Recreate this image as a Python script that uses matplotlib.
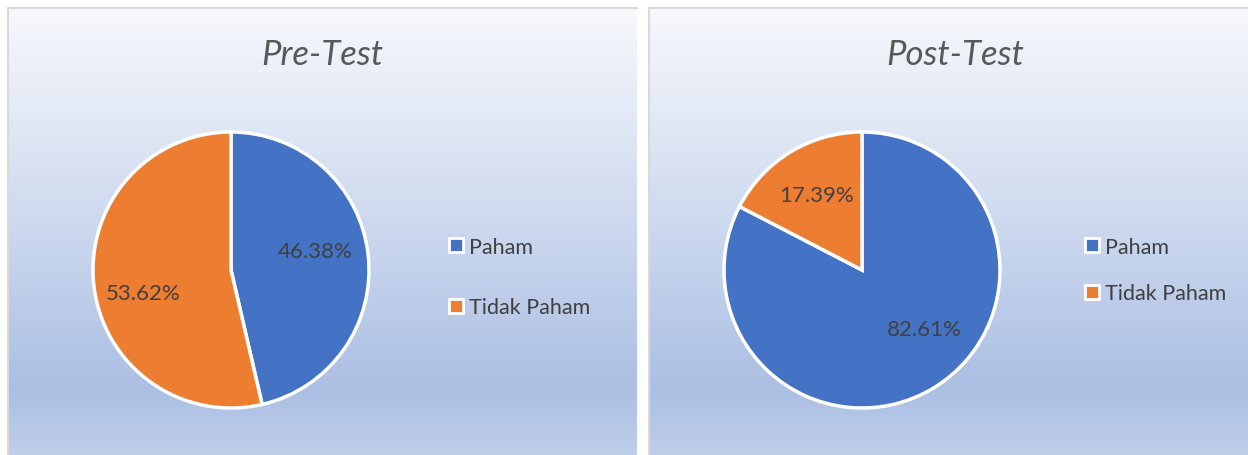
import matplotlib
matplotlib.use("Agg")
import matplotlib.pyplot as plt
import numpy as np
from matplotlib.colors import LinearSegmentedColormap
from matplotlib.lines import Line2D

plt.rcParams["font.family"] = ["Lato", "DejaVu Sans"]

# data
categories = ["Paham", "Tidak Paham"]
titles = ["Pre-Test", "Post-Test"]
pre_values = [46.38, 53.62]
post_values = [82.61, 17.39]
colors = ["#4472c4", "#ed7d31"]
TEXT = "#404040"

# where Excel put the percentage labels (in pie radius units)
pre_label_pos = [(0.61, 0.14), (-0.64, -0.17)]
post_label_pos = [(0.45, -0.43), (-0.33, 0.54)]

W, H = 1248, 456
fig = plt.figure(figsize=(W / 100, H / 100), dpi=100)

grad = LinearSegmentedColormap.from_list(
    "bg", [(0.0, "#f6f8fc"), (0.25, "#e1e8f5"), (0.83, "#abbfe3"), (1.0, "#c3d2eb")])


def panel(x0, x1, y0, y1):
    ax = fig.add_axes([x0 / W, 1 - y1 / H, (x1 - x0) / W, (y1 - y0) / H])
    ax.imshow(np.linspace(0, 1, 256).reshape(-1, 1), cmap=grad, aspect="auto",
              extent=[0, 1, 0, 1], origin="upper")
    ax.plot([0, 0, 1], [0, 1, 1], color="#d9d9d9", lw=1.5,
            transform=ax.transAxes, clip_on=False)
    ax.set_xlim(0, 1)
    ax.set_ylim(0, 1)
    ax.axis("off")
    return ax


def draw(cx, cy, r, values, title, title_x, label_pos, leg_x, leg_y, spacing):
    ax = fig.add_axes([(cx - r) / W, 1 - (cy + r) / H, 2 * r / W, 2 * r / H])
    wedges, _, autotexts = ax.pie(values, colors=colors, startangle=90, counterclock=False,
                                  autopct=lambda p: f"{p:.2f}%", pctdistance=0.6,
                                  wedgeprops=dict(edgecolor="white", linewidth=2.5),
                                  textprops=dict(color=TEXT, fontsize=16))
    for t, pos in zip(autotexts, label_pos):
        t.set_position(pos)
    ax.set_xlim(-1, 1)
    ax.set_ylim(-1, 1)
    fig.text(title_x / W, 1 - 55 / H, title, ha="center", va="center",
             fontsize=25, style="italic", color="#595959")
    handles = [Line2D([], [], marker="s", ls="none", markersize=10, markerfacecolor=c,
                      markeredgecolor="white", markeredgewidth=2) for c in colors]
    fig.legend(handles, categories, loc="upper left",
               bbox_to_anchor=(leg_x / W, 1 - leg_y / H), frameon=False,
               fontsize=15.5, labelcolor=TEXT, handlelength=0.6, handletextpad=0.3,
               labelspacing=spacing, borderpad=0, borderaxespad=0)
    return autotexts


panel(8, 637, 9, 470)
panel(649, 1260, 9, 470)

draw(231, 271, 138, pre_values, titles[0], 322, pre_label_pos, 450, 238, 1.87)
draw(862, 271, 138, post_values, titles[1], 955, post_label_pos, 1086, 238, 1.22)

fig.savefig("out.png", dpi=100, facecolor="white")
